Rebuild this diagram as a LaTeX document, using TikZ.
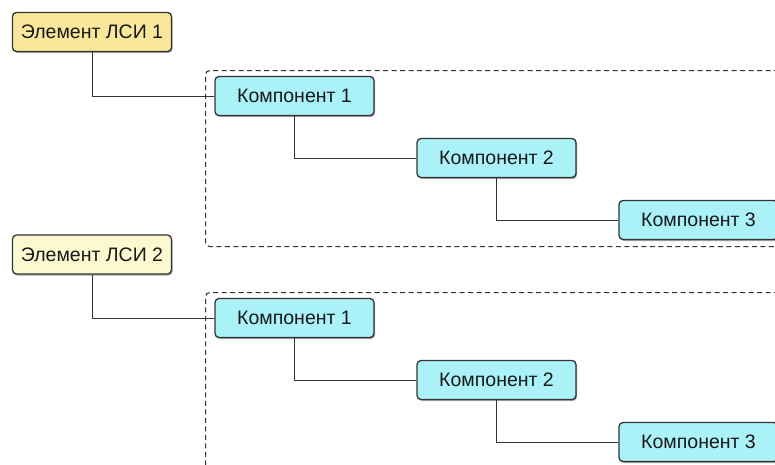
\documentclass[tikz,border=0pt]{standalone}
\usepackage{fontspec}
\setmainfont{Liberation Sans}
\usetikzlibrary{shadows}
\definecolor{yelA}{HTML}{F9E89C}
\definecolor{yelB}{HTML}{FCF8D0}
\definecolor{cyanbox}{HTML}{AAF2F8}
\definecolor{edge}{HTML}{333333}
\tikzset{
  box/.style={draw=edge, line width=1.3pt, rounded corners=4pt, minimum width=159pt, minimum height=39pt,
    inner sep=0pt, font=\fontsize{19.5}{22}\selectfont, text=black!90,
    drop shadow={shadow xshift=1pt, shadow yshift=-1.5pt, opacity=0.35, fill=black}},
  elem/.style={box},
  comp/.style={box, fill=cyanbox},
  link/.style={draw=edge, line width=1pt},
  group/.style={draw=black!80, line width=1.1pt, dashed, dash pattern=on 5pt off 3.5pt, rounded corners=4pt}
}
\begin{document}
\begin{tikzpicture}[x=1pt,y=-1pt]
\useasboundingbox (0,0) rectangle (775,464);
\clip (0,0) rectangle (775,464);
% groups
\node[group, minimum width=620pt, minimum height=176pt, anchor=north west] (g1) at (205,70) {};
\node[group, minimum width=620pt, minimum height=250pt, anchor=north west] (g2) at (205,292) {};
% first block
\node[elem, fill=yelA] (e1) at (92,32) {Элемент ЛСИ 1};
\node[comp] (a1) at (294.5,96) {Компонент 1};
\node[comp] (a2) at (496.5,158) {Компонент 2};
\node[comp] (a3) at (698.5,220) {Компонент 3};
% second block
\node[elem, fill=yelB] (e2) at (92,254.5) {Элемент ЛСИ 2};
\node[comp] (b1) at (294.5,318) {Компонент 1};
\node[comp] (b2) at (496.5,380) {Компонент 2};
\node[comp] (b3) at (698.5,442) {Компонент 3};
% links
\draw[link] (e1.south) |- (a1.west);
\draw[link] (a1.south) |- (a2.west);
\draw[link] (a2.south) |- (a3.west);
\draw[link] (e2.south) |- (b1.west);
\draw[link] (b1.south) |- (b2.west);
\draw[link] (b2.south) |- (b3.west);
\end{tikzpicture}
\end{document}
